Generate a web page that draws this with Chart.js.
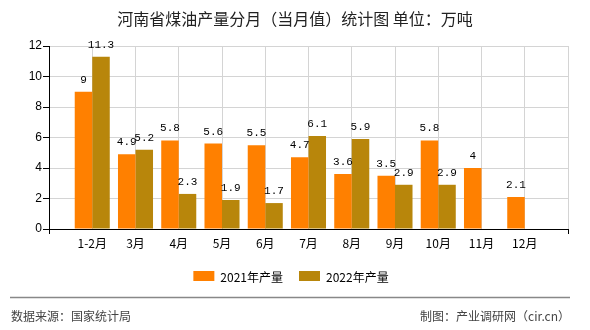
<!DOCTYPE html>
<html>
<head>
<meta charset="utf-8">
<script src="https://cdn.jsdelivr.net/npm/chart.js@4/dist/chart.umd.min.js"></script>
<style>
  html, body { margin: 0; padding: 0; background: #fff; }
  #wrap { width: 590px; height: 330px; position: relative; }
</style>
</head>
<body>
<div id="wrap"><canvas id="c" width="590" height="330"></canvas></div>
<script>
// ===== DATA =====
const months = ['1-2月', '3月', '4月', '5月', '6月', '7月', '8月', '9月', '10月', '11月', '12月'];
const output2021 = [9, 4.9, 5.8, 5.6, 5.5, 4.7, 3.6, 3.5, 5.8, 4, 2.1];
const output2022 = [11.3, 5.2, 2.3, 1.9, 1.7, 6.1, 5.9, 2.9, 2.9, null, null];
const seriesNames = ['2021年产量', '2022年产量'];
const yTicks = [0, 2, 4, 6, 8, 10, 12];

const TITLE = '河南省煤油产量分月（当月值）统计图 单位：万吨';
const SOURCE = '数据来源：国家统计局';
const CREDIT = '制图：产业调研网（cir.cn）';

const COLORS = ['#FF8000', '#B8860B'];
const CJK = '"Noto Sans CJK SC", "Noto Sans", sans-serif';

// the x axis leaves an empty slot at both ends
const labels = ['', ...months, ''];
const pad = arr => [null, ...arr, null];

// ===== PLUGINS =====
const decorations = {
  id: 'decorations',
  afterDatasetsDraw(chart) {
    const ctx = chart.ctx;
    ctx.save();
    // value labels above bars
    ctx.font = '11px "Liberation Mono", "DejaVu Sans Mono", monospace';
    ctx.fillStyle = '#000';
    ctx.textAlign = 'center';
    ctx.textBaseline = 'middle';
    chart.data.datasets.forEach((ds, di) => {
      chart.getDatasetMeta(di).data.forEach((bar, i) => {
        const v = ds.data[i];
        if (v == null) return;
        ctx.fillText(String(v), bar.x, bar.y - 12);
      });
    });
    ctx.restore();
  },
  afterDraw(chart) {
    const ctx = chart.ctx;
    ctx.save();
    // title
    ctx.font = '16px ' + CJK;
    ctx.fillStyle = '#222';
    ctx.textAlign = 'center';
    ctx.textBaseline = 'middle';
    ctx.fillText(TITLE, 295, 19);

    // legend
    ctx.font = '12px ' + CJK;
    ctx.textAlign = 'left';
    const boxW = 21, boxH = 10, gap = 6, spacing = 16, ly = 276;
    const widths = chart.data.datasets.map(d => boxW + gap + ctx.measureText(d.label).width);
    const total = widths.reduce((a, b) => a + b, 0) + spacing * (widths.length - 1);
    let lx = 291 - total / 2;
    chart.data.datasets.forEach((d, i) => {
      ctx.fillStyle = d.backgroundColor;
      ctx.fillRect(lx, ly - boxH / 2, boxW, boxH);
      ctx.fillStyle = '#000';
      ctx.fillText(d.label, lx + boxW + gap, ly + 1);
      lx += widths[i] + spacing;
    });

    // footer
    ctx.strokeStyle = '#888';
    ctx.lineWidth = 1.5;
    ctx.beginPath();
    ctx.moveTo(10, 297.5);
    ctx.lineTo(570, 297.5);
    ctx.stroke();
    ctx.fillStyle = '#444';
    ctx.font = '12px ' + CJK;
    ctx.textAlign = 'left';
    ctx.fillText(SOURCE, 11, 316);
    ctx.textAlign = 'right';
    ctx.fillText(CREDIT, 570, 316);
    ctx.restore();
  }
};

// ===== CHART =====
new Chart(document.getElementById('c'), {
  type: 'bar',
  data: {
    labels,
    datasets: [
      { label: seriesNames[0], data: pad(output2021), backgroundColor: COLORS[0] },
      { label: seriesNames[1], data: pad(output2022), backgroundColor: COLORS[1] }
    ]
  },
  options: {
    responsive: false,
    animation: false,
    devicePixelRatio: 1,
    layout: { padding: { top: 46, left: 0, right: 22, bottom: 76 } },
    categoryPercentage: 0.81,
    barPercentage: 1,
    plugins: { legend: { display: false }, title: { display: false }, tooltip: { enabled: false } },
    scales: {
      x: {
        offset: false,
        grid: {
          offset: false,
          color: ctx => ctx.index === 0 ? 'rgba(0,0,0,0)' : '#d4d4d4',
          tickColor: ctx => (ctx.index === 0 || ctx.index === labels.length - 1) ? '#000' : 'rgba(0,0,0,0)',
          tickLength: 5
        },
        border: { color: '#000', width: 1 },
        ticks: {
          color: '#000',
          font: { family: CJK, size: 12 },
          maxRotation: 0,
          autoSkip: false,
          padding: 2
        },
        afterFit(scale) { scale.height = 25; }
      },
      y: {
        min: 0,
        max: 12,
        afterBuildTicks(scale) { scale.ticks = yTicks.map(v => ({ value: v })); },
        grid: { color: '#d4d4d4', tickColor: '#000', tickLength: 6 },
        border: { color: '#000', width: 1 },
        ticks: {
          color: '#000',
          font: { family: '"Liberation Sans", sans-serif', size: 12 },
          padding: 1
        },
        afterFit(scale) { scale.width = 49; }
      }
    }
  },
  plugins: [decorations]
});
</script>
</body>
</html>
